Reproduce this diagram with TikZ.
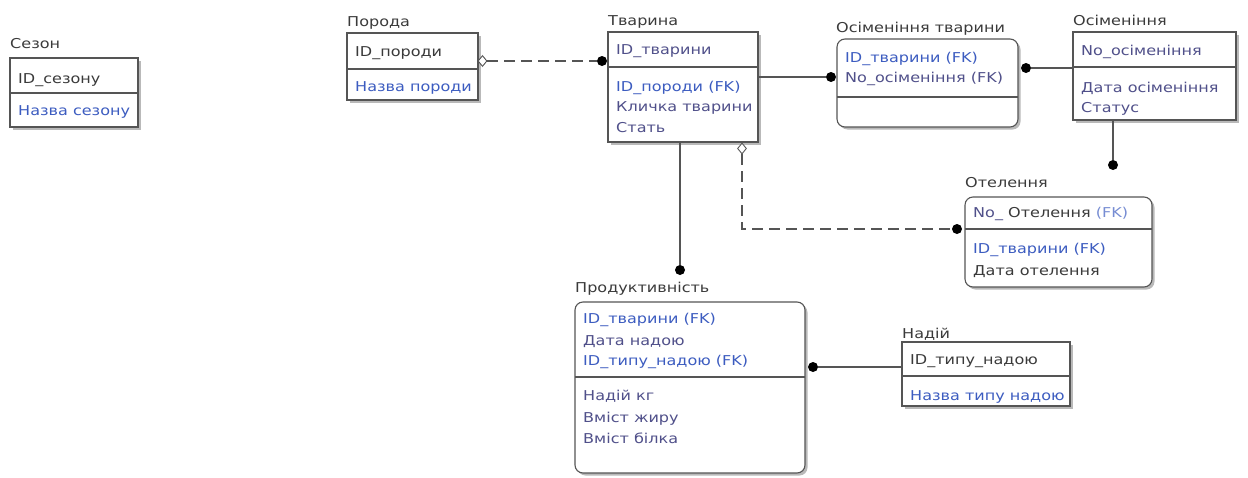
\documentclass[tikz,border=0pt]{standalone}
\usepackage{fontspec}
\setmainfont{DejaVu Sans}[FakeStretch=1.18]
\usetikzlibrary{shadows,calc,shapes.geometric}
\definecolor{dk}{HTML}{3A3A3A}
\definecolor{bl}{HTML}{3C5CC0}
\definecolor{sl}{HTML}{50508A}
\definecolor{ln}{HTML}{555555}
\tikzset{
  ent/.style={draw=ln, line width=1.1pt, fill=white, anchor=north west, inner sep=0pt, outer sep=0pt,
    drop shadow={shadow xshift=2.5pt, shadow yshift=-2.5pt, fill=gray!55, opacity=1}},
  rent/.style={ent, rounded corners=8pt},
  divl/.style={draw=ln, line width=1.1pt},
  ttl/.style={anchor=base west, inner sep=0pt, text=dk, font=\fontsize{13.6}{15}\selectfont},
  fld/.style={anchor=base west, inner sep=0pt, font=\fontsize{13.6}{15}\selectfont},
  conn/.style={draw=ln, line width=1.1pt},
  dconn/.style={conn, dash pattern=on 11pt off 6pt},
  dotm/.style={circle, fill=black, inner sep=0pt, minimum size=10pt},
  diam/.style={diamond, draw=ln, fill=white, line width=0.9pt, inner sep=0pt, minimum width=9pt, minimum height=11pt},
}
\begin{document}
\begin{tikzpicture}[x=1pt,y=-1pt]
\useasboundingbox (0,0) rectangle (1248,477);

% Сезон
\node[ent, minimum width=128pt, minimum height=69pt] (sezon) at (10,58) {};
\draw[divl] (sezon.west |- 0,93) -- (sezon.east |- 0,93);
\node[ttl] (sezonT) at (10,48) {Сезон};
\node[fld, text=dk] (sezon1) at (18,83) {ID\_сезону};
\node[fld, text=bl] (sezon2) at (18,115) {Назва сезону};

% Порода
\node[ent, minimum width=131pt, minimum height=67pt] (poroda) at (347,33) {};
\draw[divl] (poroda.west |- 0,69) -- (poroda.east |- 0,69);
\node[ttl] (porodaT) at (347,26) {Порода};
\node[fld, text=dk] (poroda1) at (355,56) {ID\_породи};
\node[fld, text=bl] (poroda2) at (355,91) {Назва породи};

% Тварина
\node[ent, minimum width=150pt, minimum height=110pt] (tv) at (608,32) {};
\draw[divl] (tv.west |- 0,67) -- (tv.east |- 0,67);
\node[ttl] (tvT) at (608,25) {Тварина};
\node[fld, text=sl] (tv1) at (616,54) {ID\_тварини};
\node[fld, text=bl] (tv2) at (616,91) {ID\_породи (FK)};
\node[fld, text=sl] (tv3) at (616,111) {Кличка тварини};
\node[fld, text=sl] (tv4) at (616,132) {Стать};

% Осіменіння тварини
\node[rent, minimum width=181pt, minimum height=88pt] (ot) at (837,39) {};
\draw[divl] (ot.west |- 0,97) -- (ot.east |- 0,97);
\node[ttl] (otT) at (836,32) {Осіменіння тварини};
\node[fld, text=bl] (ot1) at (845,62) {ID\_тварини (FK)};
\node[fld, text=sl] (ot2) at (845,82) {No\_осіменіння (FK)};

% Осіменіння
\node[ent, minimum width=163pt, minimum height=88pt] (os) at (1073,32) {};
\draw[divl] (os.west |- 0,67) -- (os.east |- 0,67);
\node[ttl] (osT) at (1073,25) {Осіменіння};
\node[fld, text=sl] (os1) at (1081,55) {No\_осіменіння};
\node[fld, text=sl] (os2) at (1081,92) {Дата осіменіння};
\node[fld, text=sl] (os3) at (1081,112) {Статус};

% Отелення
\node[rent, minimum width=187pt, minimum height=90pt] (otel) at (965,197) {};
\draw[divl] (otel.west |- 0,229) -- (otel.east |- 0,229);
\node[ttl] (otelT) at (965,187) {Отелення};
\node[fld] (otel1) at (973,217) {\textcolor{sl}{No\_ }\textcolor{dk}{Отелення} \textcolor{bl!70}{(FK)}};
\node[fld, text=bl] (otel2) at (973,253) {ID\_тварини (FK)};
\node[fld, text=dk] (otel3) at (973,275) {Дата отелення};

% Продуктивність
\node[rent, minimum width=230pt, minimum height=171pt] (pr) at (575,302) {};
\draw[divl] (pr.west |- 0,377) -- (pr.east |- 0,377);
\node[ttl] (prT) at (575,292) {Продуктивність};
\node[fld, text=bl] (pr1) at (583,323) {ID\_тварини (FK)};
\node[fld, text=sl] (pr2) at (583,345) {Дата надою};
\node[fld, text=bl] (pr3) at (583,365) {ID\_типу\_надою (FK)};
\node[fld, text=sl] (pr4) at (583,400) {Надій кг};
\node[fld, text=sl] (pr5) at (583,422) {Вміст жиру};
\node[fld, text=sl] (pr6) at (583,443) {Вміст білка};

% Надій
\node[ent, minimum width=168pt, minimum height=64pt] (nd) at (902,342) {};
\draw[divl] (nd.west |- 0,376) -- (nd.east |- 0,376);
\node[ttl] (ndT) at (902,338) {Надій};
\node[fld, text=dk] (nd1) at (910,364) {ID\_типу\_надою};
\node[fld, text=bl] (nd2) at (910,400) {Назва типу надою};

% Connectors
\node[diam] (d1) at (poroda.east |- 0,61) [xshift=4.5pt] {};
\node[dotm] (k1) at ($(tv.west |- 0,61)+(-6,0)$) {};
\draw[dconn] (d1) -- (k1);
\node[dotm] (k2) at ($(ot.west |- 0,77)+(-6,0)$) {};
\draw[conn] (tv.east |- k2) -- (k2);
\node[dotm] (k3) at ($(ot.east |- 0,68)+(8,0)$) {};
\draw[conn] (os.west |- k3) -- (k3);
\node[dotm] (k4) at (1113,165) {};
\draw[conn] (os.south -| k4) -- (k4);
\node[diam] (d2) at ($(tv.south -| 742,0)+(0,6.5)$) {};
\node[dotm] (k5) at ($(otel.west |- 0,229)+(-8,0)$) {};
\coordinate (c5) at (d2 |- k5);
\draw[dconn] (d2) -- (c5) -- (k5);
\node[dotm] (k6) at (680,270) {};
\draw[conn] (tv.south -| k6) -- (k6);
\node[dotm] (k7) at ($(pr.east |- 0,367)+(8,0)$) {};
\draw[conn] (nd.west |- k7) -- (k7);
\end{tikzpicture}
\end{document}
